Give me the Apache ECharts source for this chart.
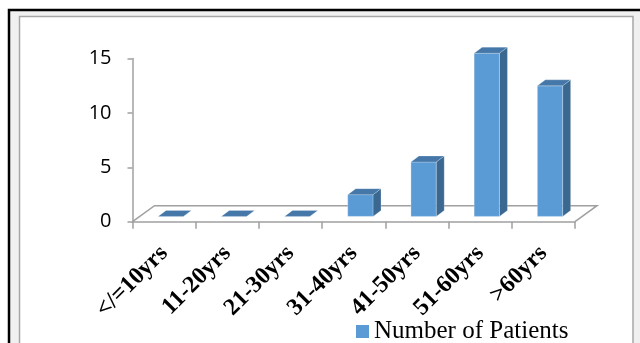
<!DOCTYPE html>
<html>
<head>
<meta charset="utf-8">
<script src="https://cdn.jsdelivr.net/npm/echarts@6/dist/echarts.min.js"></script>
<style>
  html, body { margin: 0; padding: 0; background: #ffffff; }
  #chart { width: 640px; height: 343px; }
</style>
</head>
<body>
<div id="chart"></div>
<script>
// Age groups and patient counts
const categories = ['</=10yrs', '11-20yrs', '21-30yrs', '31-40yrs', '41-50yrs', '51-60yrs', '>60yrs'];
const patients = [0, 0, 0, 2, 5, 15, 12];
const seriesName = 'Number of Patients';
const yTicks = { min: 0, max: 15, interval: 5 };

// 3D look: floor depth and bar depth offsets (px)
const FLOOR_DX = 22, FLOOR_DY = -16;
const BAR_SHIFT_X = 6.6, BAR_SHIFT_Y = -5.3;
const BAR_DX = 8, BAR_DY = -6;
const FRONT = '#5b9bd5', SIDE = '#3b6891', TOP = '#4577a8';
const AXIS_GREY = '#a0a0a0';

const chart = echarts.init(document.getElementById('chart'), null, { renderer: 'canvas' });

function renderBar(params, api) {
  const i = api.value(0);
  const v = api.value(1);
  const base = api.coord([i, 0]);
  const top = api.coord([i, v]);
  const bw = api.size([1, 0])[0] * 0.4;
  const x0 = base[0] + BAR_SHIFT_X - bw / 2;
  const x1 = x0 + bw;
  const yb = base[1] + BAR_SHIFT_Y;
  const yt = top[1] + BAR_SHIFT_Y;
  const children = [];
  if (yb - yt > 0.5) {
    children.push({
      type: 'polygon',
      shape: { points: [[x1, yt], [x1 + BAR_DX, yt + BAR_DY], [x1 + BAR_DX, yb + BAR_DY], [x1, yb]] },
      style: { fill: SIDE, stroke: 'rgba(255,255,255,0.35)', lineWidth: 0.6 }
    });
    children.push({
      type: 'polygon',
      shape: { points: [[x0, yt], [x1, yt], [x1, yb], [x0, yb]] },
      style: { fill: FRONT, stroke: 'rgba(255,255,255,0.45)', lineWidth: 0.6 }
    });
  }
  children.push({
    type: 'polygon',
    shape: { points: [[x0, yt], [x0 + BAR_DX, yt + BAR_DY], [x1 + BAR_DX, yt + BAR_DY], [x1, yt]] },
    style: { fill: TOP, stroke: 'rgba(255,255,255,0.35)', lineWidth: 0.6 }
  });
  return { type: 'group', children: children };
}

function renderFloor(params, api) {
  const cs = params.coordSys;
  const bx = cs.x, by = cs.y + cs.height, w = cs.width;
  return {
    type: 'polyline',
    shape: { points: [[bx, by], [bx + FLOOR_DX, by + FLOOR_DY], [bx + w + FLOOR_DX, by + FLOOR_DY], [bx + w, by]] },
    style: { fill: null, stroke: AXIS_GREY, lineWidth: 1.5 }
  };
}

const option = {
  animation: false,
  backgroundColor: '#ffffff',
  graphic: [
    { type: 'rect', shape: { x: 9, y: 10, width: 640, height: 340 }, style: { fill: '#f0f0f0', stroke: '#000000', lineWidth: 2.5 }, z: -10 },
    { type: 'rect', shape: { x: 19.5, y: 16.5, width: 613.5, height: 340 }, style: { fill: '#ffffff', stroke: '#a6a6a6', lineWidth: 1.5 }, z: -9 }
  ],
  grid: { left: 132.5, right: 65, top: 58.5, bottom: 121.3 },
  legend: {
    left: 351,
    top: 314,
    itemWidth: 13,
    itemHeight: 13,
    itemGap: 6,
    icon: 'rect',
    textStyle: { fontFamily: 'Liberation Serif', fontSize: 25, color: '#000000' },
    data: [seriesName]
  },
  xAxis: {
    type: 'category',
    data: categories,
    axisLine: { lineStyle: { color: AXIS_GREY, width: 1.5 } },
    axisTick: { show: true, length: 7, lineStyle: { color: AXIS_GREY, width: 1.5 } },
    axisLabel: {
      rotate: 45,
      interval: 0,
      margin: 28,
      fontFamily: 'Liberation Serif',
      fontWeight: 'bold',
      fontSize: 24,
      color: '#000000'
    },
    splitLine: { show: false }
  },
  yAxis: {
    type: 'value',
    min: yTicks.min,
    max: yTicks.max,
    interval: yTicks.interval,
    axisLine: { show: true, lineStyle: { color: AXIS_GREY, width: 1.5 } },
    axisTick: { show: true, length: 5, lineStyle: { color: AXIS_GREY, width: 1.5 } },
    axisLabel: { margin: 21, fontFamily: 'Open Sans', fontSize: 20, color: '#000000' },
    splitLine: { show: false }
  },
  series: [
    {
      type: 'custom',
      silent: true,
      renderItem: renderFloor,
      data: [[0, 0]],
      z: 1
    },
    {
      name: seriesName,
      type: 'custom',
      renderItem: renderBar,
      itemStyle: { color: FRONT },
      encode: { x: 0, y: 1 },
      data: patients.map((v, i) => [i, v]),
      z: 3
    }
  ]
};

chart.setOption(option);
</script>
</body>
</html>
